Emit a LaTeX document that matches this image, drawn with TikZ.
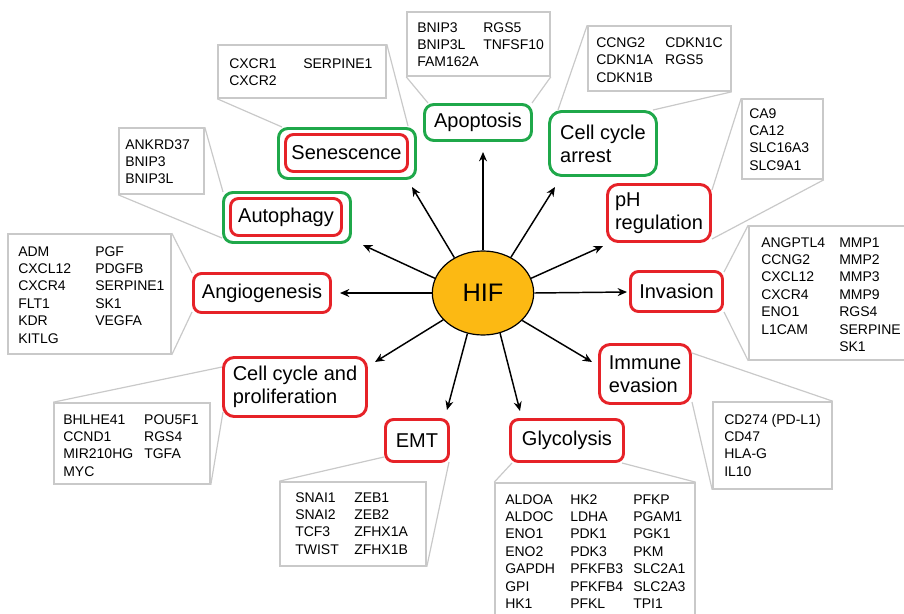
\documentclass[tikz,border=0pt]{standalone}
\usepackage{fontspec}
\setmainfont{Liberation Sans}
\usetikzlibrary{arrows.meta,shapes.geometric,fit,backgrounds}
\definecolor{hred}{HTML}{E62228}
\definecolor{hgreen}{HTML}{1FA84A}
\definecolor{hyel}{HTML}{FCB913}
\definecolor{hgray}{HTML}{C9C9C9}
\tikzset{
  lab/.style={draw=hred, line width=2.2pt, rounded corners=6pt, fill=white, inner sep=0pt,
    align=left, font=\fontsize{15}{17.4}\selectfont},
  grn/.style={draw=hgreen, line width=2.2pt, rounded corners=7pt, fill=white, inner sep=0pt},
  gbox/.style={draw=hgray, line width=1.2pt, fill=white, inner sep=0pt},
  gtxt/.style={anchor=base west, inner sep=0pt, font=\fontsize{10.5}{13.1}\selectfont},
  callout/.style={draw=hgray, line width=0.9pt},
  arr/.style={-{Stealth[length=7pt,width=6pt]}, line width=1.1pt},
}
\begin{document}
\begin{tikzpicture}[x=0.75pt,y=-0.75pt]
\useasboundingbox (0,0) rectangle (904,614);
\clip (0,0) rectangle (904,614);

% gene boxes
\node[gbox, fit={(218,45) (386,98)}] (gSen) {};
\node[gbox, fit={(119,128) (204,194)}] (gAut) {};
\node[gbox, fit={(407,12) (550,76)}] (gApo) {};
\node[gbox, fit={(588,26) (731,91)}] (gCca) {};
\node[gbox, fit={(742,99) (823,179)}] (gPh) {};
\node[gbox, fit={(749,226) (915,360)}] (gInv) {};
\node[gbox, fit={(713,402) (832,489)}] (gImm) {};
\node[gbox, fit={(495,483) (695,630)}] (gGly) {};
\node[gbox, fit={(280,482) (426,566)}] (gEmt) {};
\node[gbox, fit={(54,403) (210,484)}] (gCcp) {};
\node[gbox, fit={(8,234) (171,354)}] (gAng) {};

% gene texts
\node[gtxt] (tSen) at (229,68) {\begin{tabular}[t]{@{}p{55.5pt}@{}l@{}}CXCR1 & SERPINE1\\ CXCR2 & \end{tabular}};
\node[gtxt] (tAut) at (125,149) {\begin{tabular}[t]{@{}l@{}}ANKRD37\\ BNIP3\\ BNIP3L\end{tabular}};
\node[gtxt] (tApo) at (417,32) {\begin{tabular}[t]{@{}p{49.5pt}@{}l@{}}BNIP3 & RGS5\\ BNIP3L & TNFSF10\\ FAM162A & \end{tabular}};
\node[gtxt] (tCca) at (596,47.5) {\begin{tabular}[t]{@{}p{51.75pt}@{}l@{}}CCNG2 & CDKN1C\\ CDKN1A & RGS5\\ CDKN1B & \end{tabular}};
\node[gtxt] (tPh) at (749,118) {\begin{tabular}[t]{@{}l@{}}CA9\\ CA12\\ SLC16A3\\ SLC9A1\end{tabular}};
\node[gtxt] (tInv) at (761,247) {\begin{tabular}[t]{@{}p{58.5pt}@{}l@{}}ANGPTL4 & MMP1\\ CCNG2 & MMP2\\ CXCL12 & MMP3\\ CXCR4 & MMP9\\ ENO1 & RGS4\\ L1CAM & SERPINE\\ & SK1\end{tabular}};
\node[gtxt] (tImm) at (724,424) {\begin{tabular}[t]{@{}l@{}}CD274 (PD-L1)\\ CD47\\ HLA-G\\ IL10\end{tabular}};
\node[gtxt] (tGly) at (505,504) {\begin{tabular}[t]{@{}p{48.75pt}@{}p{47.25pt}@{}l@{}}ALDOA & HK2 & PFKP\\ ALDOC & LDHA & PGAM1\\ ENO1 & PDK1 & PGK1\\ ENO2 & PDK3 & PKM\\ GAPDH & PFKFB3 & SLC2A1\\ GPI & PFKFB4 & SLC2A3\\ HK1 & PFKL & TPI1\end{tabular}};
\node[gtxt] (tEmt) at (295,502) {\begin{tabular}[t]{@{}p{44.25pt}@{}l@{}}SNAI1 & ZEB1\\ SNAI2 & ZEB2\\ TCF3 & ZFHX1A\\ TWIST & ZFHX1B\end{tabular}};
\node[gtxt] (tCcp) at (63,424) {\begin{tabular}[t]{@{}p{60.75pt}@{}l@{}}BHLHE41 & POU5F1\\ CCND1 & RGS4\\ MIR210HG & TGFA\\ MYC & \end{tabular}};
\node[gtxt] (tAng) at (18,256) {\begin{tabular}[t]{@{}p{57.75pt}@{}l@{}}ADM & PGF\\ CXCL12 & PDGFB\\ CXCR4 & SERPINE1\\ FLT1 & SK1\\ KDR & VEGFA\\ KITLG & \end{tabular}};

% label boxes
\node[grn, minimum width=102.75pt, minimum height=37.5pt] (senO) at (347,153.5) {};
\node[lab, minimum width=91.5pt, minimum height=27.75pt] (sen) at (346.5,153) {Senescence};
\node[grn, minimum width=95.25pt, minimum height=37.5pt] (autO) at (287,217.5) {};
\node[lab, minimum width=83.25pt, minimum height=27.75pt] (aut) at (286,217) {Autophagy};
\node[lab, draw=hgreen, rounded corners=7pt, minimum width=80.25pt, minimum height=27pt] (apo) at (478,122.5) {Apoptosis};
\node[lab, draw=hgreen, rounded corners=9pt, minimum width=80.25pt, minimum height=48pt] (cca) at (603,143.5) {Cell cycle\\arrest};
\node[lab, rounded corners=8pt, minimum width=77.25pt, minimum height=42.75pt] (ph) at (659,213) {pH\\regulation};
\node[lab, minimum width=69pt, minimum height=30pt] (inv) at (676.5,291.5) {Invasion};
\node[lab, rounded corners=8pt, minimum width=68.25pt, minimum height=44.25pt] (imm) at (645,374) {Immune\\evasion};
\node[lab, minimum width=84.75pt, minimum height=31.5pt] (gly) at (567,440.5) {Glycolysis};
\node[lab, minimum width=47.25pt, minimum height=31.5pt] (emt) at (417,440.5) {EMT};
\node[lab, rounded corners=8pt, minimum width=107.25pt, minimum height=44.25pt] (ccp) at (295,387) {Cell cycle and\\proliferation};
\node[lab, minimum width=102.75pt, minimum height=29.25pt] (ang) at (262,293) {Angiogenesis};

% HIF
\node[ellipse, draw, fill=hyel, line width=0.9pt, minimum width=76pt, minimum height=63pt,
  inner sep=0pt, font=\fontsize{19}{22}\selectfont] (hif) at (483,293) {HIF};

% callout anchor points on label boxes
\coordinate (cSenL) at (282,127);  \coordinate (cSenR) at (408,126);
\coordinate (cAutL) at (222,238);  \coordinate (cAutR) at (223,192);
\coordinate (cApoL) at (428,103);  \coordinate (cApoR) at (532,103);
\coordinate (cCcaL) at (558,110);  \coordinate (cCcaR) at (653,110);
\coordinate (cPhT) at (712,190);   \coordinate (cPhB) at (712,239);
\coordinate (cInvT) at (724,272);  \coordinate (cInvB) at (724,312);
\coordinate (cImmT) at (692,353);  \coordinate (cImmB) at (692,402);
\coordinate (cGlyL) at (512,463);  \coordinate (cGlyR) at (622,463);
\coordinate (cEmtL) at (384,457);  \coordinate (cEmtR) at (449,462);
\coordinate (cCcpT) at (222,367);  \coordinate (cCcpB) at (223,412);
\coordinate (cAngT) at (192,273);  \coordinate (cAngB) at (192,312);

\begin{scope}[on background layer]
\draw[callout] (gSen.south west) -- (cSenL) (gSen.north east) -- (cSenR);
\draw[callout] (gAut.south west) -- (cAutL) (gAut.north east) -- (cAutR);
\draw[callout] (gApo.south west) -- (cApoL) (gApo.south east) -- (cApoR);
\draw[callout] (gCca.north west) -- (cCcaL) (gCca.south east) -- (cCcaR);
\draw[callout] (gPh.north west) -- (cPhT) (gPh.south east) -- (cPhB);
\draw[callout] (gInv.north west) -- (cInvT) (gInv.south west) -- (cInvB);
\draw[callout] (gImm.north east) -- (cImmT) (gImm.south west) -- (cImmB);
\draw[callout] (gGly.north west) -- (cGlyL) (gGly.north east) -- (cGlyR);
\draw[callout] (gEmt.north west) -- (cEmtL) (gEmt.south east) -- (cEmtR);
\draw[callout] (gCcp.north west) -- (cCcpT) (gCcp.south east) -- (cCcpB);
\draw[callout] (gAng.north east) -- (cAngT) (gAng.south east) -- (cAngB);
\end{scope}

% arrow tips
\coordinate (aApo) at (483,152);
\coordinate (aCca) at (555,187);
\coordinate (aSen) at (412,187);
\coordinate (aAut) at (363,245);
\coordinate (aAng) at (340,293);
\coordinate (aCcp) at (375,362);
\coordinate (aEmt) at (447,410);
\coordinate (aGly) at (520,411);
\coordinate (aImm) at (592,362);
\coordinate (aInv) at (627,292);
\coordinate (aPh) at (603,246);

\draw[arr] (hif.90) -- (aApo);
\draw[arr] (hif.52) -- (aCca);
\draw[arr] (hif.129) -- (aSen);
\draw[arr] (hif.163) -- (aAut);
\draw[arr] (hif.180) -- (aAng);
\draw[arr] (hif.214) -- (aCcp);
\draw[arr] (hif.249) -- (aEmt);
\draw[arr] (hif.293) -- (aGly);
\draw[arr] (hif.325) -- (aImm);
\draw[arr] (hif.0) -- (aInv);
\draw[arr] (hif.17) -- (aPh);
\end{tikzpicture}
\end{document}
